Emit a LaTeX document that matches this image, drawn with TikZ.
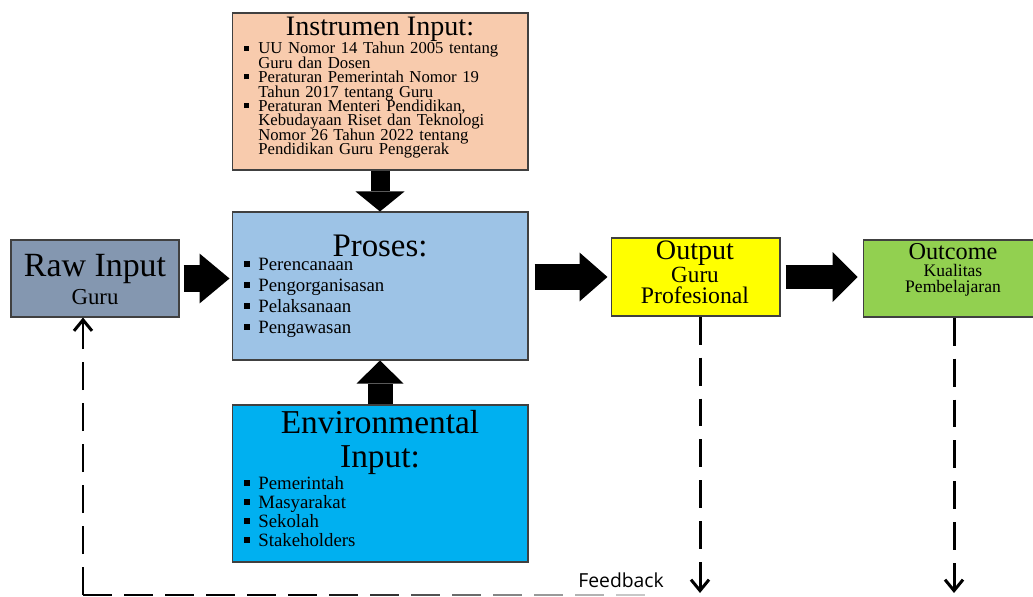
\documentclass[tikz,border=0pt]{standalone}
\usepackage{fontspec}
\setmainfont{Liberation Serif}
\setsansfont{Open Sans}
\usetikzlibrary{positioning,arrows.meta,calc}

\definecolor{instrfill}{HTML}{F8CBAD}
\definecolor{prosesfill}{HTML}{9DC3E6}
\definecolor{envfill}{HTML}{00B0F0}
\definecolor{rawfill}{HTML}{8497B0}
\definecolor{outputfill}{HTML}{FFFF00}
\definecolor{outcomefill}{HTML}{92D050}
\definecolor{boxline}{HTML}{404040}

\newcommand\bitem[1]{\hangindent=0.28cm\hangafter=1\noindent\makebox[0.28cm][l]{\rule[0.2em]{0.3em}{0.3em}}#1\par}

\tikzset{
  box/.style={draw=boxline, line width=0.6pt, inner sep=0pt},
  label text/.style={anchor=base, inner sep=0pt},
  listtext/.style={anchor=north west, inner sep=0pt, text width=5.6cm, align=left},
  bigarrow/.style n args={3}{draw=black, line width=#1,
    -{Triangle[length=#2, width=#3, line width=0pt]}},
  fbline/.style={line width=1.7pt, dash pattern=on 0.56cm off 0.26cm},
  fbseg/.style={line width=1.7pt},
  fbtip/.style={-{Straight Barb[length=0.22cm, width=0.36cm]}}
}

\begin{document}
\begin{tikzpicture}[x=0.02cm, y=-0.02cm]
\useasboundingbox (0,0) rectangle (1033,597);

% boxes
\node[box, fill=instrfill, minimum width=5.92cm, minimum height=3.14cm] (instr) at (380,91.5) {};
\node[box, fill=prosesfill, minimum width=5.92cm, minimum height=2.96cm] (proses) at (380,286) {};
\node[box, fill=envfill, minimum width=5.92cm, minimum height=3.14cm] (env) at (380,483.5) {};
\node[box, fill=rawfill, minimum width=3.36cm, minimum height=1.54cm] (raw) at (95,278.5) {};
\node[box, fill=outputfill, minimum width=3.38cm, minimum height=1.56cm] (output) at (695.5,277) {};
\node[box, fill=outcomefill, minimum width=3.5cm, minimum height=1.54cm] (outcome) at (950.5,278.5) {};

% texts
\node[label text, font=\fontsize{16}{16}\selectfont] (instrtitle) at (380,36) {Instrumen Input:};
\node[listtext, font=\fontsize{9.5}{8.2}\selectfont] (instrlist) at (244,42)
  {\lineskiplimit=-5pt
   \bitem{UU Nomor 14 Tahun 2005 tentang\newline Guru dan Dosen}%
   \bitem{Peraturan Pemerintah Nomor 19\newline Tahun 2017 tentang Guru}%
   \bitem{Peraturan Menteri Pendidikan,\newline Kebudayaan Riset dan Teknologi\newline Nomor 26 Tahun 2022 tentang\newline Pendidikan Guru Penggerak}};

\node[label text, font=\fontsize{18.7}{18.7}\selectfont] (prosestitle) at (380,257) {Proses:};
\node[listtext, font=\fontsize{10.7}{11.9}\selectfont] (proseslist) at (244,258)
  {\bitem{Perencanaan}\bitem{Pengorganisasan}\bitem{Pelaksanaan}\bitem{Pengawasan}};

\node[label text, font=\fontsize{19}{19}\selectfont] (envtitle) at (380,433) {Environmental};
\node[label text, font=\fontsize{19}{19}\selectfont] (envtitleb) at (380,467) {Input:};
\node[listtext, font=\fontsize{10.7}{10.8}\selectfont] (envlist) at (244,476)
  {\lineskiplimit=-5pt
   \bitem{Pemerintah}\bitem{Masyarakat}\bitem{Sekolah}\bitem{Stakeholders}};

\node[label text, font=\fontsize{19.3}{19.3}\selectfont] (rawtitle) at (95,277) {Raw Input};
\node[label text, font=\fontsize{13}{13}\selectfont] (rawsub) at (95,305) {Guru};

\node[label text, font=\fontsize{16}{16}\selectfont] (outputtitle) at (695,260) {Output};
\node[label text, font=\fontsize{13.2}{13.2}\selectfont] (outputsub) at (695,283) {Guru};
\node[label text, font=\fontsize{13.5}{13.5}\selectfont] (outputsubb) at (695,304) {Profesional};

\node[label text, font=\fontsize{13.8}{13.8}\selectfont] (outcometitle) at (953,260) {Outcome};
\node[label text, font=\fontsize{10}{10}\selectfont] (outcomesub) at (953,277) {Kualitas};
\node[label text, font=\fontsize{10}{10}\selectfont] (outcomesubb) at (953,293) {Pembelajaran};

% block arrows
\draw[bigarrow={0.38cm}{0.4cm}{0.98cm}] (instr.south) -- (proses.north);
\draw[bigarrow={0.5cm}{0.46cm}{0.94cm}] (env.north) -- (proses.south);
\draw[bigarrow={0.56cm}{0.6cm}{1cm}] ($(raw.east)+(4,0)$) -- ($(proses.west |- raw.east)+(-2,0)$);
\draw[bigarrow={0.52cm}{0.56cm}{0.98cm}] ($(proses.east |- output.west)+(6,0)$) -- ($(output.west)+(-3,0)$);
\draw[bigarrow={0.5cm}{0.5cm}{1cm}] ($(output.east)+(5,0)$) -- ($(outcome.west |- output.east)+(-5,0)$);

% feedback
\coordinate (fbcorner) at (83,595);
\coordinate (outputend) at (700,593);
\coordinate (outcomeend) at (954,593);
\draw[fbline, fbtip] (outputend |- output.south) -- (outputend);
\draw[fbline, fbtip] (outcomeend |- outcome.south) -- (outcomeend);
\draw[fbline, fbtip] (fbcorner) -- (fbcorner |- raw.south);
\foreach \i/\g in {0/100,1/100,2/100,3/100,4/100,5/100,6/90,7/80,8/68,9/58,10/48,11/40,12/30,13/22}
  \draw[fbseg, black!\g] ($(fbcorner)+(41*\i,0)$) -- ++(29,0);
\node[anchor=base west, inner sep=0pt, font=\sffamily\fontsize{11}{11}\selectfont] (fblabel) at (578,587) {Feedback};
\end{tikzpicture}
\end{document}
